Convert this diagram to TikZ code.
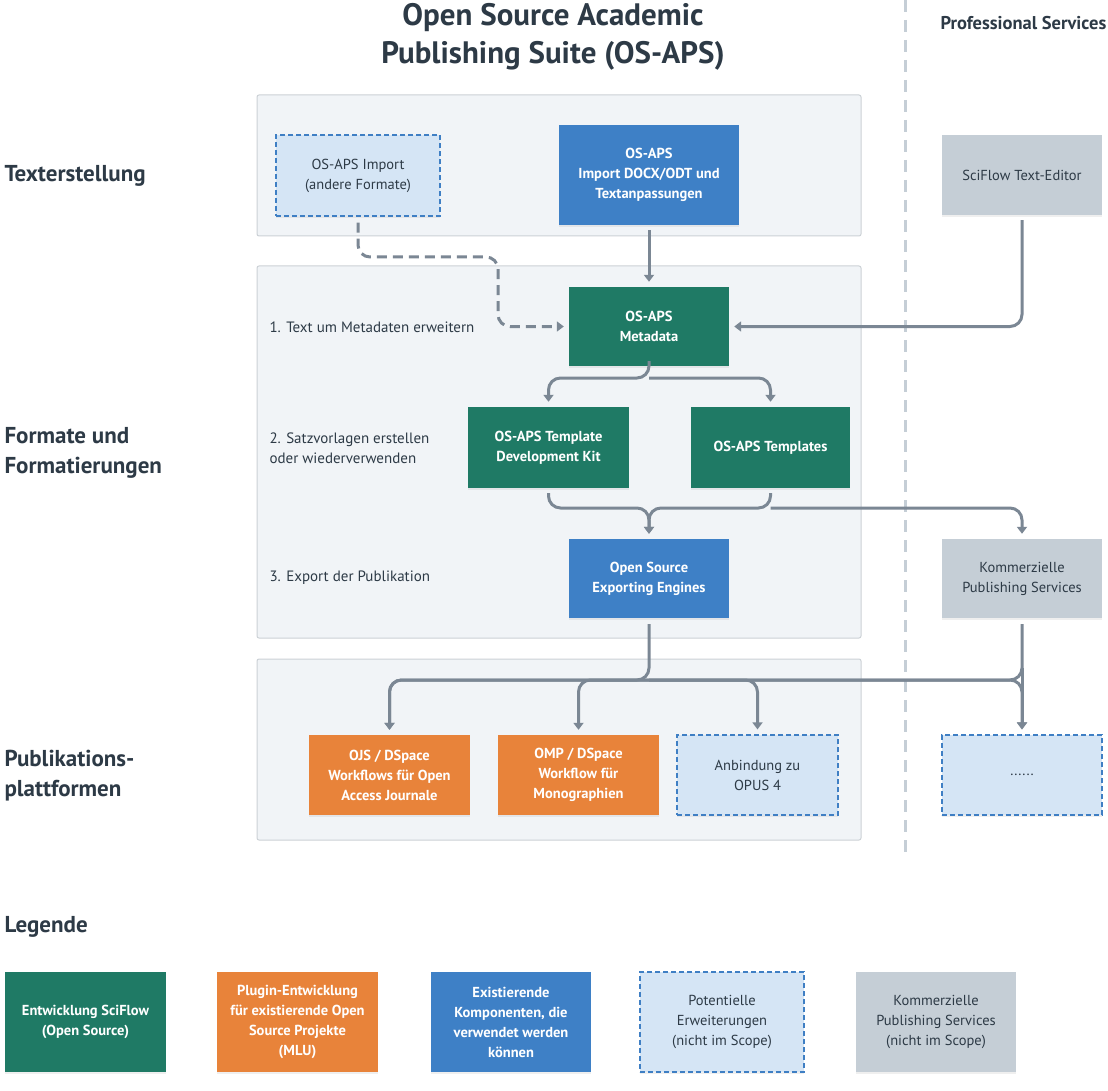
\documentclass[tikz,border=0pt]{standalone}
\usepackage{fontspec}
\setmainfont{PT Sans}
\usetikzlibrary{arrows.meta,shadows}

\definecolor{sfgreen}{HTML}{1F7A65}
\definecolor{mluorange}{HTML}{E8833A}
\definecolor{exblue}{HTML}{3E80C6}
\definecolor{potfill}{HTML}{D5E5F5}
\definecolor{potline}{HTML}{3F7FC4}
\definecolor{comgray}{HTML}{C5CED6}
\definecolor{panelfill}{HTML}{F1F4F7}
\definecolor{panelline}{HTML}{CCD1D6}
\definecolor{connline}{HTML}{7B8794}
\definecolor{darktext}{HTML}{2D3A46}

\tikzset{
  box/.style={minimum width=160pt, minimum height=80pt, align=center, inner sep=2pt,
    font=\fontsize{14.5}{20}\selectfont, drop shadow={opacity=0.12, shadow xshift=0pt, shadow yshift=-2pt}},
  greenbox/.style={box, fill=sfgreen, text=white, font=\bfseries\fontsize{14.5}{20}\selectfont},
  orangebox/.style={box, fill=mluorange, text=white, font=\bfseries\fontsize{14.5}{20}\selectfont},
  bluebox/.style={box, fill=exblue, text=white, font=\bfseries\fontsize{14.5}{20}\selectfont},
  potbox/.style={box, fill=potfill, draw=potline, line width=1.2pt, dash pattern=on 5pt off 3pt, text=darktext},
  combox/.style={box, fill=comgray, text=darktext},
  panel/.style={fill=panelfill, draw=panelline, line width=1pt, rounded corners=2pt},
  heading/.style={anchor=west, text=darktext, font=\bfseries\fontsize{23}{30}\selectfont, align=left},
  steplabel/.style={anchor=west, text=darktext, font=\fontsize{15}{20.5}\selectfont, align=left},
  conn/.style={draw=connline, line width=3pt, rounded corners=12pt},
  arr/.style={conn, -{Triangle[length=7pt,width=10pt]}, shorten >=5pt},
}

\begin{document}
\begin{tikzpicture}[x=1pt, y=-1pt]
  \useasboundingbox[fill=white] (0,0) rectangle (1108,1091);

  % panels and divider
  \draw[panel] (257,95) rectangle (861,236);
  \draw[panel] (257,266) rectangle (861,638);
  \draw[panel] (257,659) rectangle (861,840);
  \draw[comgray, line width=3pt, dash pattern=on 12pt off 8pt] (905,0) -- (905,858);

  % headings
  \node[text=darktext, align=center, font=\bfseries\fontsize{31}{38}\selectfont] (title) at (553,37) {Open Source Academic\\Publishing Suite (OS-APS)};
  \node[heading, font=\bfseries\fontsize{18.5}{20}\selectfont] (prof) at (937,23) {Professional Services};
  \node[heading] (h1) at (1,176) {Texterstellung};
  \node[heading] (h2) at (1,453) {Formate und\\Formatierungen};
  \node[heading] (h3) at (1,776) {Publikations-\\plattformen};
  \node[heading] (h4) at (1,927) {Legende};

  % steps
  \node[steplabel] (s1) at (266,327) {1. Text um Metadaten erweitern};
  \node[steplabel] (s2) at (266,448) {2. Satzvorlagen erstellen\\oder wiederverwenden};
  \node[steplabel] (s3) at (266,578) {3. Export der Publikation};

  % boxes
  \node[potbox, minimum width=164pt, minimum height=81pt] (impother) at (358,175.5) {OS-APS Import\\(andere Formate)};
  \node[bluebox, minimum width=180pt, minimum height=100pt] (impdocx) at (649,175) {OS-APS\\Import DOCX/ODT und\\Textanpassungen};
  \node[combox] (editor) at (1022,175) {SciFlow Text-Editor};
  \node[greenbox, minimum height=79pt] (meta) at (649,326.5) {OS-APS\\Metadata};
  \node[greenbox, minimum width=161pt, minimum height=81pt] (tdk) at (548.5,447.5) {OS-APS Template\\Development Kit};
  \node[greenbox, minimum width=159pt, minimum height=81pt] (tmpl) at (770.5,447.5) {OS-APS Templates};
  \node[bluebox, minimum height=79pt] (export) at (649,578.5) {Open Source\\Exporting Engines};
  \node[combox, minimum height=79pt] (commerc) at (1022,578.5) {Kommerzielle\\Publishing Services};
  \node[orangebox, minimum width=161pt] (ojs) at (389.5,775) {OJS / DSpace\\Workflows für Open\\Access Journale};
  \node[orangebox, minimum width=161pt] (omp) at (578.5,775) {OMP / DSpace\\Workflow für\\Monographien};
  \node[potbox, minimum width=161pt] (opus) at (757.5,775) {Anbindung zu\\OPUS 4};
  \node[potbox] (dots) at (1022,775) {......};

  % legend
  \node[greenbox, minimum width=161pt, minimum height=100pt] (lg1) at (85.5,1022) {Entwicklung SciFlow\\(Open Source)};
  \node[orangebox, minimum width=161pt, minimum height=100pt] (lg2) at (297.5,1022) {Plugin-Entwicklung\\für existierende Open\\Source Projekte\\(MLU)};
  \node[bluebox, minimum width=160pt, minimum height=100pt] (lg3) at (511,1022) {Existierende\\Komponenten, die\\verwendet werden\\können};
  \node[potbox, minimum width=164pt, minimum height=100pt] (lg4) at (722,1022) {Potentielle\\Erweiterungen\\(nicht im Scope)};
  \node[combox, minimum width=160pt, minimum height=100pt] (lg5) at (936,1022) {Kommerzielle\\Publishing Services\\(nicht im Scope)};

  % connectors
  \coordinate (split1) at (649,378);
  \coordinate (merge) at (649,508);
  \coordinate (bus2) at (770.5,508);
  \coordinate (split3) at (649,680);
  \coordinate (split4) at (1022,680);

  \draw[arr, shorten <=5pt] (impdocx.south) -- (meta.north);
  \draw[arr, dashed, dash pattern=on 10pt off 6pt, shorten <=6pt] (impother.south) |- (498,257) |- (meta.west);
  \draw[arr, shorten <=5pt] (editor.south) |- (meta.east);
  \draw[arr, shorten <=5pt] (meta.south) -- (split1) -| (tdk.north);
  \draw[arr] (split1) -| (tmpl.north);
  \draw[arr, shorten <=5pt] (tdk.south) |- (merge) -- (export.north);
  \draw[arr, shorten <=5pt] (tmpl.south) |- (merge) -- (export.north);
  \draw[arr] (bus2) -| (commerc.north);
  \draw[arr, shorten <=6pt] (export.south) -- (split3) -| (ojs.north);
  \draw[arr] (split3) -| (omp.north);
  \draw[arr] (split3) -| (opus.north);
  \draw[arr] (split3) -| (dots.north);
  \draw[arr, shorten <=6pt] (commerc.south) -- (split4) -| (ojs.north);
  \draw[arr] (split4) -| (dots.north);
\end{tikzpicture}
\end{document}
